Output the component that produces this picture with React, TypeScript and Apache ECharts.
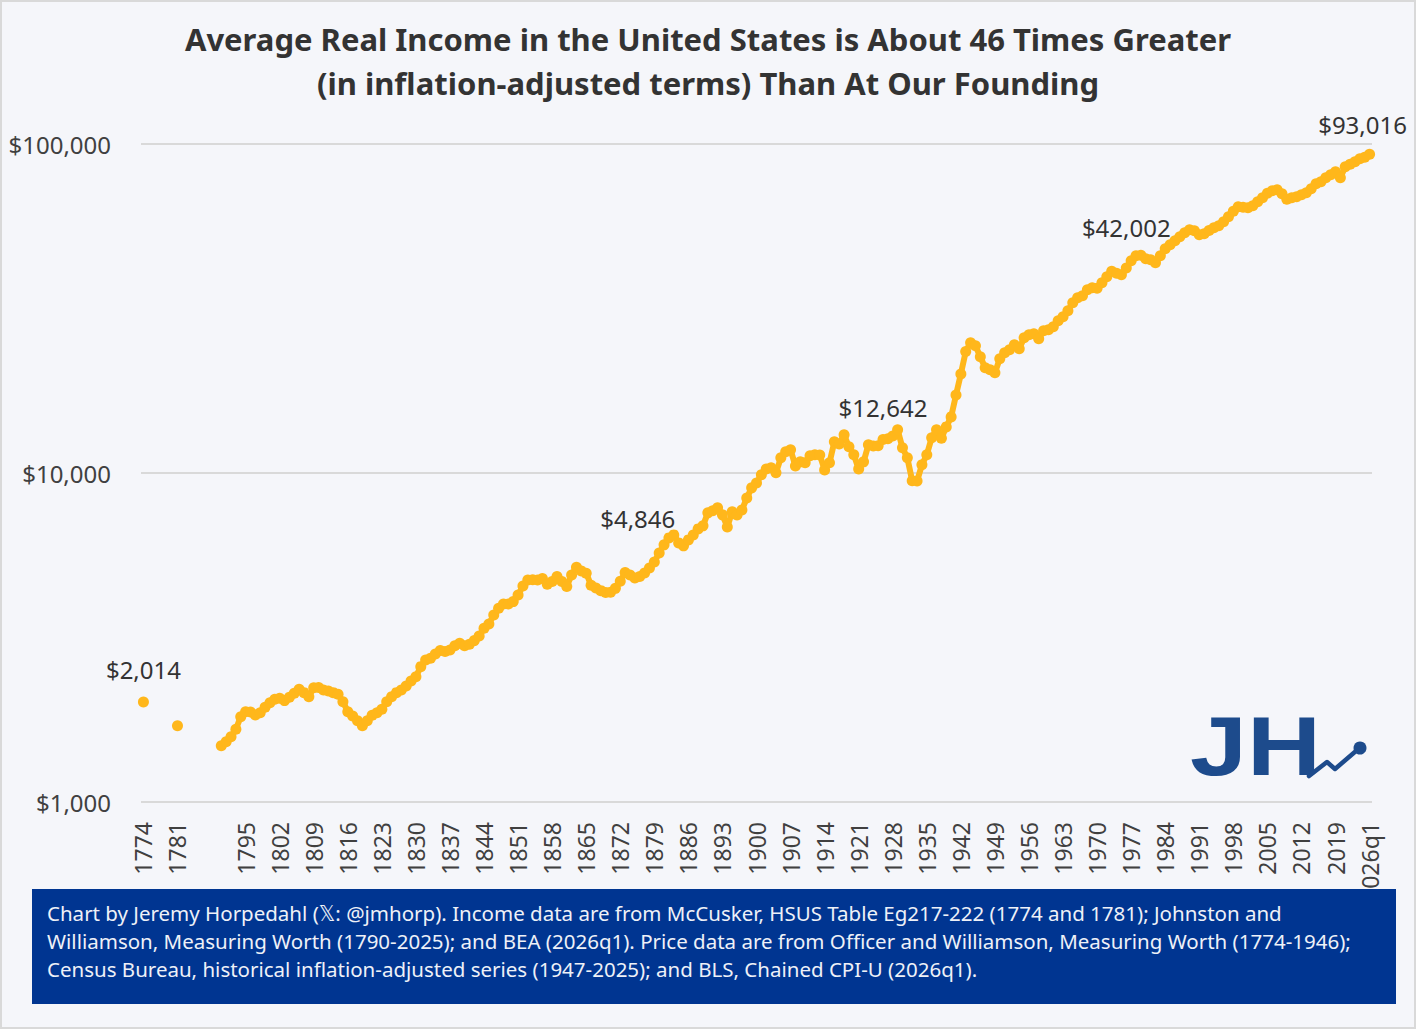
import React, { useEffect, useRef } from 'react';
import * as echarts from 'echarts';

// income per year, 2026 dollars
const earlyYears = ['1774', '1781'];
const earlyIncome = [2014, 1706];

const income1790to1829 = [
  1483, 1525, 1580, 1664, 1817, 1882, 1876, 1839, 1869, 1941,
  2004, 2053, 2067, 2033, 2082, 2141, 2202, 2150, 2090, 2226,
  2230, 2191, 2176, 2150, 2126, 2018, 1882, 1826, 1767, 1706,
  1767, 1835, 1869, 1914, 2018, 2090, 2150, 2191, 2253, 2333,
];
const income1830to1869 = [
  2404, 2579, 2703, 2735, 2819, 2885, 2865, 2899, 2987, 3038,
  2985, 3017, 3094, 3197, 3375, 3478, 3704, 3882, 4000, 3995,
  4065, 4261, 4538, 4732, 4735, 4728, 4776, 4592, 4676, 4843,
  4680, 4516, 4901, 5172, 5040, 4960, 4560, 4470, 4390, 4330,
];
const income1870to1909 = [
  4340, 4460, 4690, 4980, 4901, 4799, 4846, 4970, 5147, 5368,
  5717, 6047, 6350, 6485, 6132, 6005, 6262, 6480, 6763, 6907,
  7565, 7680, 7835, 7460, 6858, 7618, 7450, 7720, 8390, 9012,
  9330, 9880, 10290, 10370, 10010, 11120, 11600, 11760, 10510, 10810,
];
const income1910to1949 = [
  10740, 11280, 11360, 11350, 10220, 10740, 12440, 12260, 13060, 12010,
  11360, 10290, 10810, 12180, 12090, 12100, 12642, 12700, 12950, 13530,
  11930, 11120, 9465, 9450, 10590, 11360, 12790, 13530, 12750, 13810,
  14810, 17250, 20000, 23400, 24880, 24360, 22550, 20880, 20590, 20160,
];
const income1950to1989 = [
  22240, 23190, 23680, 24530, 23850, 25760, 26310, 26490, 25580, 27060,
  27250, 27820, 29020, 29840, 31130, 32910, 34090, 34570, 36060, 36560,
  36450, 37860, 39490, 41040, 40470, 40040, 42002, 44170, 45740, 45900,
  44790, 44480, 43560, 45740, 48050, 49410, 50810, 52250, 53730, 54870,
];
const income1990to2025 = [
  54490, 52980, 53350, 54600, 55650, 56440, 58040, 60110, 62470, 64470,
  64240, 64020, 64920, 66770, 68670, 70870, 72120, 72630, 70620, 67950,
  68670, 69150, 70130, 71120, 73140, 75740, 76810, 78980, 80660, 82370,
  78980, 85300, 86810, 88340, 90210, 91160,
];
const latestLabel = '2026q1';
const latestIncome = 93016;

// annotated points and how far their labels sit from the default spot
const labelledYears = ['1774', '1876', '1926', '1976', '2026q1'];
const labelShifts: [number, number][] = [[0, -3], [-2, -29], [0, -3], [0, -11], [-7, 0]];
const yTicks = [1000, 10000, 100000];

const titleText =
  'Average Real Income in the United States is About 46 Times Greater\n(in inflation-adjusted terms) Than At Our Founding';
const footerLines = [
  'Chart by Jeremy Horpedahl (\u{1D54F}: @jmhorp). Income data are from McCusker, HSUS Table Eg217-222 (1774 and 1781); Johnston and',
  'Williamson, Measuring Worth (1790-2025); and BEA (2026q1). Price data are from Officer and Williamson, Measuring Worth (1774-1946);',
  'Census Bureau, historical inflation-adjusted series (1947-2025); and BLS, Chained CPI-U (2026q1).',
];

const FONT = '"Noto Sans", "DejaVu Sans", sans-serif';
const GOLD = '#ffb71b';
const NAVY = '#1d4b8c';

const App: React.FC = () => {
  const chartRef = useRef<HTMLDivElement | null>(null);

  useEffect(() => {
    document.body.style.margin = '0';
    const chart = echarts.init(chartRef.current!, undefined, { renderer: 'svg' });

    // build category axis and values
    const byYear: Record<string, number> = {};
    earlyYears.forEach((y, i) => (byYear[y] = earlyIncome[i]));
    const blocks = [income1790to1829, income1830to1869, income1870to1909, income1910to1949, income1950to1989, income1990to2025];
    let yr = 1790;
    blocks.forEach((b) => b.forEach((v) => (byYear[String(yr++)] = v)));
    byYear[latestLabel] = latestIncome;

    const categories: string[] = [];
    for (let y = 1774; y <= 2025; y++) categories.push(String(y));
    categories.push(latestLabel);

    const seriesData = categories.map((c) => {
      const v = byYear[c];
      if (v == null) return null;
      const li = labelledYears.indexOf(c);
      if (li >= 0) return { value: v, label: { show: true, offset: labelShifts[li] } };
      return v;
    });

    const money = (v: number) => '$' + Math.round(v).toLocaleString('en-US');

    const option: echarts.EChartsOption = {
      animation: false,
      backgroundColor: '#f5f6fa',
      textStyle: { fontFamily: FONT },
      grid: { left: 141, right: 44, top: 144, bottom: 227, containLabel: false },
      xAxis: {
        type: 'category',
        data: categories,
        boundaryGap: true,
        axisLine: { show: false },
        axisTick: { show: false },
        axisLabel: {
          interval: 6,
          rotate: 90,
          margin: 20,
          fontSize: 23,
          color: '#404040',
          fontFamily: FONT,
          formatter: (v: string) => (byYear[v] == null ? '' : v),
        },
      },
      yAxis: {
        type: 'log',
        logBase: 10,
        min: yTicks[0],
        max: yTicks[yTicks.length - 1],
        axisLine: { show: false },
        axisTick: { show: false },
        axisLabel: {
          margin: 30,
          fontSize: 24,
          color: '#404040',
          fontFamily: FONT,
          formatter: (v: number) => money(v),
        },
        splitLine: { lineStyle: { color: '#d9d9d9', width: 2 } },
      },
      series: [
        {
          type: 'line',
          data: seriesData as any,
          connectNulls: false,
          showSymbol: true,
          showAllSymbol: true,
          symbol: 'circle',
          symbolSize: 11,
          itemStyle: { color: GOLD },
          lineStyle: { color: GOLD, width: 6 },
          label: {
            show: false,
            position: 'top',
            distance: 12,
            fontSize: 24,
            color: '#333333',
            fontFamily: FONT,
            formatter: (p: any) => money(p.value),
          },
          emphasis: { disabled: true },
        },
      ],
      graphic: [
        {
          type: 'rect',
          shape: { x: 1, y: 1, width: 1414, height: 1027 },
          style: { fill: 'none', stroke: '#d9d9d9', lineWidth: 2 },
          silent: true,
        },
        {
          type: 'text',
          x: 708,
          y: 17,
          style: {
            text: titleText,
            fill: '#333333',
            font: 'bold 31px "Noto Sans", sans-serif',
            lineHeight: 44,
            align: 'center',
            verticalAlign: 'top',
          },
          silent: true,
        },
        {
          type: 'text',
          x: 1190,
          y: 704,
          scaleX: 1.22,
          style: {
            text: 'JH',
            fill: NAVY,
            font: 'bold 84px "Liberation Sans", sans-serif',
          },
          silent: true,
        },
        {
          type: 'polyline',
          shape: { points: [[1309, 776], [1327, 762], [1335, 769], [1356, 751]] },
          style: { stroke: NAVY, lineWidth: 4.5, fill: 'none', lineCap: 'round', lineJoin: 'round' },
          silent: true,
        },
        {
          type: 'circle',
          shape: { cx: 1360, cy: 748, r: 6.5 },
          style: { fill: NAVY },
          silent: true,
        },
        {
          type: 'rect',
          shape: { x: 32, y: 889, width: 1364, height: 115 },
          style: { fill: '#003591' },
          z: 100,
          silent: true,
        },
        {
          type: 'text',
          x: 47,
          y: 899,
          z: 101,
          style: {
            text: footerLines.join('\n'),
            fill: '#eef1f8',
            fontSize: 20.5,
            fontFamily: FONT,
            lineHeight: 28,
          },
          silent: true,
        },
      ],
    };

    chart.setOption(option);

    return () => {
      chart.dispose();
    };
  }, []);

  return (
    <div
      ref={chartRef}
      style={{ position: 'absolute', left: 0, top: 0, width: '1416px', height: '1029px' }}
    />
  );
};

export default App;
